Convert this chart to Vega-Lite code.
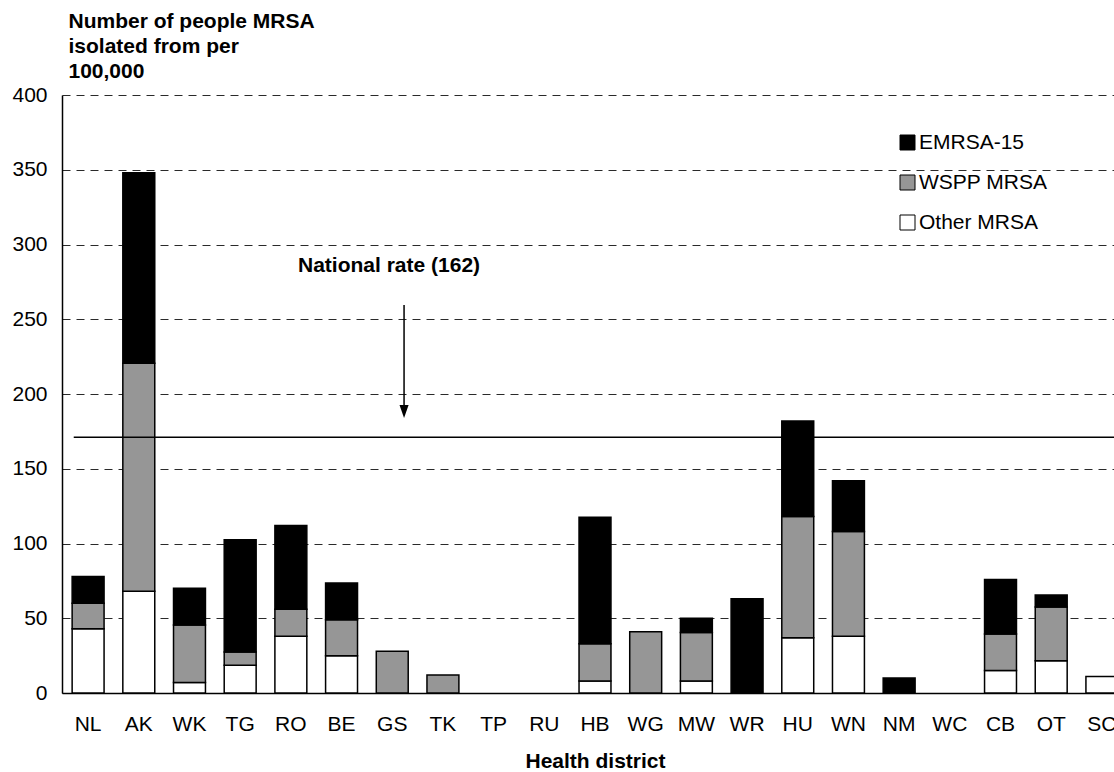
{
  "$schema": "https://vega.github.io/schema/vega-lite/v6.json",
  "width": 1052,
  "height": 598,
  "autosize": {"type": "none"},
  "padding": {"left": 62, "top": 95, "right": 0, "bottom": 79},
  "background": "white",
  "config": {
    "font": "Liberation Sans",
    "view": {"stroke": null},
    "axis": {"labelColor": "black", "titleColor": "black", "labelFont": "Liberation Sans", "titleFont": "Liberation Sans"},
    "legend": {"labelColor": "black", "labelFont": "Liberation Sans"}
  },
  "datasets": {
    "mrsa": [
      {"district": "NL", "strain": "Other MRSA", "level": 1, "value": 43},
      {"district": "NL", "strain": "WSPP MRSA", "level": 2, "value": 17},
      {"district": "NL", "strain": "EMRSA-15", "level": 3, "value": 18},
      {"district": "AK", "strain": "Other MRSA", "level": 1, "value": 68},
      {"district": "AK", "strain": "WSPP MRSA", "level": 2, "value": 152.5},
      {"district": "AK", "strain": "EMRSA-15", "level": 3, "value": 127.5},
      {"district": "WK", "strain": "Other MRSA", "level": 1, "value": 7},
      {"district": "WK", "strain": "WSPP MRSA", "level": 2, "value": 38.5},
      {"district": "WK", "strain": "EMRSA-15", "level": 3, "value": 24.5},
      {"district": "TG", "strain": "Other MRSA", "level": 1, "value": 18.5},
      {"district": "TG", "strain": "WSPP MRSA", "level": 2, "value": 9},
      {"district": "TG", "strain": "EMRSA-15", "level": 3, "value": 75},
      {"district": "RO", "strain": "Other MRSA", "level": 1, "value": 38},
      {"district": "RO", "strain": "WSPP MRSA", "level": 2, "value": 18},
      {"district": "RO", "strain": "EMRSA-15", "level": 3, "value": 56},
      {"district": "BE", "strain": "Other MRSA", "level": 1, "value": 25},
      {"district": "BE", "strain": "WSPP MRSA", "level": 2, "value": 24},
      {"district": "BE", "strain": "EMRSA-15", "level": 3, "value": 24.5},
      {"district": "GS", "strain": "WSPP MRSA", "level": 2, "value": 28},
      {"district": "TK", "strain": "WSPP MRSA", "level": 2, "value": 12},
      {"district": "HB", "strain": "Other MRSA", "level": 1, "value": 8},
      {"district": "HB", "strain": "WSPP MRSA", "level": 2, "value": 25},
      {"district": "HB", "strain": "EMRSA-15", "level": 3, "value": 84.5},
      {"district": "WG", "strain": "WSPP MRSA", "level": 2, "value": 41},
      {"district": "MW", "strain": "Other MRSA", "level": 1, "value": 8},
      {"district": "MW", "strain": "WSPP MRSA", "level": 2, "value": 32.5},
      {"district": "MW", "strain": "EMRSA-15", "level": 3, "value": 9.5},
      {"district": "WR", "strain": "EMRSA-15", "level": 3, "value": 63},
      {"district": "HU", "strain": "Other MRSA", "level": 1, "value": 37},
      {"district": "HU", "strain": "WSPP MRSA", "level": 2, "value": 81},
      {"district": "HU", "strain": "EMRSA-15", "level": 3, "value": 64},
      {"district": "WN", "strain": "Other MRSA", "level": 1, "value": 38},
      {"district": "WN", "strain": "WSPP MRSA", "level": 2, "value": 70},
      {"district": "WN", "strain": "EMRSA-15", "level": 3, "value": 34},
      {"district": "NM", "strain": "EMRSA-15", "level": 3, "value": 10},
      {"district": "CB", "strain": "Other MRSA", "level": 1, "value": 15},
      {"district": "CB", "strain": "WSPP MRSA", "level": 2, "value": 24.5},
      {"district": "CB", "strain": "EMRSA-15", "level": 3, "value": 36.5},
      {"district": "OT", "strain": "Other MRSA", "level": 1, "value": 21.5},
      {"district": "OT", "strain": "WSPP MRSA", "level": 2, "value": 36},
      {"district": "OT", "strain": "EMRSA-15", "level": 3, "value": 8},
      {"district": "SC", "strain": "Other MRSA", "level": 1, "value": 11}
    ],
    "national": [{"from": "NL", "to": "SC", "rate": 171}],
    "arrow": [{"district": "GS", "top": 259.5, "bottom": 192, "tip": 188.3}],
    "label": [{"district": "GS", "y": 285.6, "text": "National rate (162)"}]
  },
  "layer": [
    {
      "data": {"name": "mrsa"},
      "mark": {"type": "bar", "stroke": "black", "strokeWidth": 1.5},
      "encoding": {
        "x": {
          "field": "district",
          "type": "nominal",
          "scale": {
            "domain": ["NL","AK","WK","TG","RO","BE","GS","TK","TP","RU","HB","WG","MW","WR","HU","WN","NM","WC","CB","OT","SC"],
            "range": [0, 1066],
            "paddingInner": 0.37,
            "paddingOuter": 0.2
          },
          "axis": {
            "title": "Health district",
            "labelAngle": 0,
            "labelFontSize": 21,
            "labelPadding": 20,
            "ticks": false,
            "tickSize": 0,
            "domainColor": "black",
            "domainWidth": 1.5,
            "titleFontSize": 21,
            "titleFontWeight": "bold",
            "titlePadding": 16
          }
        },
        "y": {
          "field": "value",
          "type": "quantitative",
          "stack": "zero",
          "scale": {"domain": [0, 400], "nice": false},
          "axis": {
            "values": [0, 50, 100, 150, 200, 250, 300, 350, 400],
            "title": ["Number of people MRSA", "isolated from per", "100,000"],
            "titleAngle": 0,
            "titleAlign": "left",
            "titleBaseline": "alphabetic",
            "titleX": 6,
            "titleY": -68,
            "titleFontSize": 21,
            "titleFontWeight": "bold",
            "titleLineHeight": 25,
            "labelFontSize": 21,
            "labelPadding": 15,
            "ticks": false,
            "domainColor": "black",
            "domainWidth": 1.5,
            "grid": true,
            "gridDash": [8, 6],
            "gridColor": "#2a2a2a",
            "gridWidth": 1
          }
        },
        "color": {
          "field": "strain",
          "type": "nominal",
          "scale": {"domain": ["EMRSA-15", "WSPP MRSA", "Other MRSA"], "range": ["#000000", "#969696", "#ffffff"]},
          "legend": {
            "title": null,
            "orient": "none",
            "legendX": 835,
            "legendY": 37,
            "padding": 0,
            "symbolType": "square",
            "symbolSize": 225,
            "symbolStrokeColor": "black",
            "symbolStrokeWidth": 1,
            "symbolOpacity": 1,
            "labelFontSize": 21,
            "labelOffset": 1,
            "rowPadding": 18
          }
        },
        "order": {"field": "level", "type": "quantitative"}
      }
    },
    {
      "data": {"name": "national"},
      "mark": {"type": "rule", "color": "black", "strokeWidth": 1.5},
      "encoding": {
        "x": {"field": "from", "type": "nominal", "bandPosition": 0.05},
        "x2": {"field": "to", "bandPosition": 1},
        "y": {"field": "rate", "type": "quantitative"}
      }
    },
    {
      "data": {"name": "arrow"},
      "mark": {"type": "rule", "color": "black", "strokeWidth": 1.5},
      "encoding": {
        "x": {"field": "district", "type": "nominal", "bandPosition": 0.87},
        "y": {"field": "top", "type": "quantitative"},
        "y2": {"field": "bottom"}
      }
    },
    {
      "data": {"name": "arrow"},
      "mark": {"type": "point", "shape": "M-0.7,-1L0.7,-1L0,1Z", "filled": true, "color": "black", "opacity": 1, "size": 169},
      "encoding": {
        "x": {"field": "district", "type": "nominal", "bandPosition": 0.87},
        "y": {"field": "tip", "type": "quantitative"}
      }
    },
    {
      "data": {"name": "label"},
      "mark": {"type": "text", "fontSize": 21, "fontWeight": "bold", "color": "black", "align": "center", "baseline": "middle", "font": "Liberation Sans"},
      "encoding": {
        "x": {"field": "district", "type": "nominal", "bandPosition": 0.4},
        "y": {"field": "y", "type": "quantitative"},
        "text": {"field": "text"}
      }
    }
  ]
}
